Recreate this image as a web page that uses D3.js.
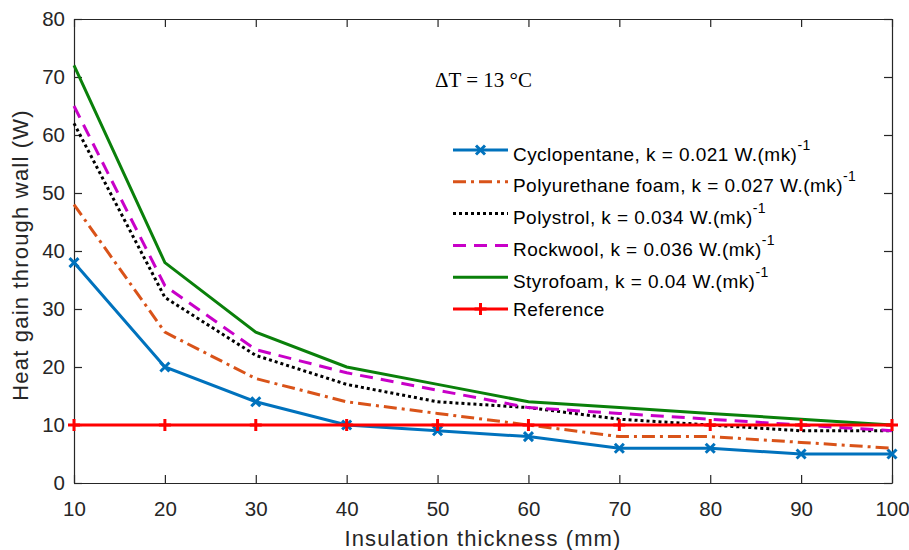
<!DOCTYPE html>
<html>
<head>
<meta charset="utf-8">
<script src="https://cdn.jsdelivr.net/npm/d3@7"></script>
<style>
  body { margin: 0; background: #fff; }
  svg { font-family: "Liberation Sans", Arial, sans-serif; }
</style>
</head>
<body>
<div id="chart"></div>
<script>
// data
var thickness = [10, 20, 30, 40, 50, 60, 70, 80, 90, 100];
var cyclopentane = [38, 20, 14, 10, 9, 8, 6, 6, 5, 5];
var polyurethane = [48, 26, 18, 14, 12, 10, 8, 8, 7, 6];
var polystrol = [62, 32, 22, 17, 14, 13, 11, 10, 9, 9];
var rockwool = [65, 34, 23, 19, 16, 13, 12, 11, 10, 9];
var styrofoam = [72, 38, 26, 20, 17, 14, 13, 12, 11, 10];
var reference = [10, 10, 10, 10, 10, 10, 10, 10, 10, 10];
var seriesNames = [
    "Cyclopentane, k = 0.021 W.(mk)",
    "Polyurethane foam, k = 0.027 W.(mk)",
    "Polystrol, k = 0.034 W.(mk)",
    "Rockwool, k = 0.036 W.(mk)",
    "Styrofoam, k = 0.04 W.(mk)",
    "Reference"
];
var xTicks = [10, 20, 30, 40, 50, 60, 70, 80, 90, 100];
var yTicks = [0, 10, 20, 30, 40, 50, 60, 70, 80];

var series = [
    { name: seriesNames[0], values: cyclopentane, color: "#0072BD", dash: null, marker: "x", sup: true },
    { name: seriesNames[1], values: polyurethane, color: "#D95319", dash: "13,5,3,5", marker: null, sup: true },
    { name: seriesNames[2], values: polystrol, color: "#000000", dash: "3,3", marker: null, sup: true },
    { name: seriesNames[3], values: rockwool, color: "#C800C8", dash: "13,8", marker: null, sup: true },
    { name: seriesNames[4], values: styrofoam, color: "#0A800A", dash: null, marker: null, sup: true },
    { name: seriesNames[5], values: reference, color: "#FF0000", dash: null, marker: "+", sup: false }
];

var margin = { top: 19, right: 17, bottom: 67, left: 74 },
    width = 909 - margin.left - margin.right,
    height = 550 - margin.top - margin.bottom;

var svg = d3.select("#chart")
    .append("svg")
    .attr("width", 909)
    .attr("height", 550)
    .append("g")
    .attr("transform", "translate(" + margin.left + "," + margin.top + ")");

var x = d3.scaleLinear().domain([10, 100]).range([0, width]);
var y = d3.scaleLinear().domain([0, 80]).range([height, 0]);

// axes, ticks pointing inward like matlab
function styleAxis(g) {
    g.select(".domain").attr("stroke", "#262626").attr("stroke-width", 1.2);
    g.selectAll(".tick line").attr("stroke", "#262626").attr("stroke-width", 1.2);
    g.selectAll(".tick text").attr("fill", "#262626").style("font-size", "20.5px");
}

svg.append("g")
    .attr("transform", "translate(0," + height + ")")
    .call(d3.axisBottom(x).tickValues(xTicks).tickSizeInner(-8).tickSizeOuter(0).tickPadding(18))
    .call(styleAxis);
svg.append("g")
    .call(d3.axisLeft(y).tickValues(yTicks).tickSizeInner(-8).tickSizeOuter(0).tickPadding(9))
    .call(styleAxis);
svg.append("g")
    .call(d3.axisTop(x).tickValues(xTicks).tickSizeInner(-8).tickSizeOuter(0).tickFormat(""))
    .call(styleAxis);
svg.append("g")
    .attr("transform", "translate(" + width + ",0)")
    .call(d3.axisRight(y).tickValues(yTicks).tickSizeInner(-8).tickSizeOuter(0).tickFormat(""))
    .call(styleAxis);

// axis titles
svg.append("text")
    .attr("x", width / 2)
    .attr("y", height + 63)
    .attr("text-anchor", "middle")
    .attr("fill", "#262626")
    .style("font-size", "22px")
    .style("letter-spacing", "1.1px")
    .text("Insulation thickness (mm)");
svg.append("text")
    .attr("transform", "translate(" + (-46) + "," + 236 + ") rotate(-90)")
    .attr("text-anchor", "middle")
    .attr("fill", "#262626")
    .style("font-size", "22px")
    .style("letter-spacing", "1.2px")
    .text("Heat gain through wall (W)");

// lines
var line = d3.line()
    .x(function (d, i) { return x(thickness[i]); })
    .y(function (d) { return y(d); });

function drawMarker(g, type, cx, cy, color) {
    if (type == "x") {
        var s = 4.5;
        g.append("path")
            .attr("d", "M" + (cx - s) + "," + (cy - s) + "L" + (cx + s) + "," + (cy + s) +
                "M" + (cx - s) + "," + (cy + s) + "L" + (cx + s) + "," + (cy - s))
            .attr("stroke", color).attr("stroke-width", 3).attr("fill", "none");
    } else if (type == "+") {
        var s2 = 6;
        g.append("path")
            .attr("d", "M" + cx + "," + (cy - s2) + "L" + cx + "," + (cy + s2) +
                "M" + (cx - s2) + "," + cy + "L" + (cx + s2) + "," + cy)
            .attr("stroke", color).attr("stroke-width", 3).attr("fill", "none");
    }
}

series.forEach(function (s) {
    svg.append("path")
        .datum(s.values)
        .attr("fill", "none")
        .attr("stroke", s.color)
        .attr("stroke-width", 3)
        .attr("stroke-dasharray", s.dash)
        .attr("d", line);
    if (s.marker) {
        var mg = svg.append("g");
        s.values.forEach(function (v, i) {
            drawMarker(mg, s.marker, x(thickness[i]), y(v), s.color);
        });
    }
});

// annotation
svg.append("text")
    .attr("x", 361)
    .attr("y", 68)
    .style("font-family", "'Liberation Serif', 'Times New Roman', serif")
    .style("font-size", "21px")
    .attr("fill", "#000")
    .text("\u0394T = 13 \u00B0C");

// legend
var legend = svg.append("g")
    .attr("transform", "translate(" + (453 - margin.left) + "," + (150 - margin.top) + ")");
series.forEach(function (s, i) {
    var ly = i * 31.8;
    legend.append("line")
        .attr("x1", 0).attr("x2", 55)
        .attr("y1", ly).attr("y2", ly)
        .attr("stroke", s.color)
        .attr("stroke-width", 3)
        .attr("stroke-dasharray", s.dash);
    if (s.marker) drawMarker(legend, s.marker, 27.5, ly, s.color);
    var t = legend.append("text")
        .attr("x", 60)
        .attr("y", ly + (s.sup ? 10.5 : 7))
        .attr("fill", "#000")
        .style("font-size", "19px")
        .style("letter-spacing", "0.45px")
        .text(s.name);
    if (s.sup) {
        t.append("tspan")
            .attr("dy", -11)
            .style("font-size", "14px")
            .text("-1");
    }
});
</script>
</body>
</html>
